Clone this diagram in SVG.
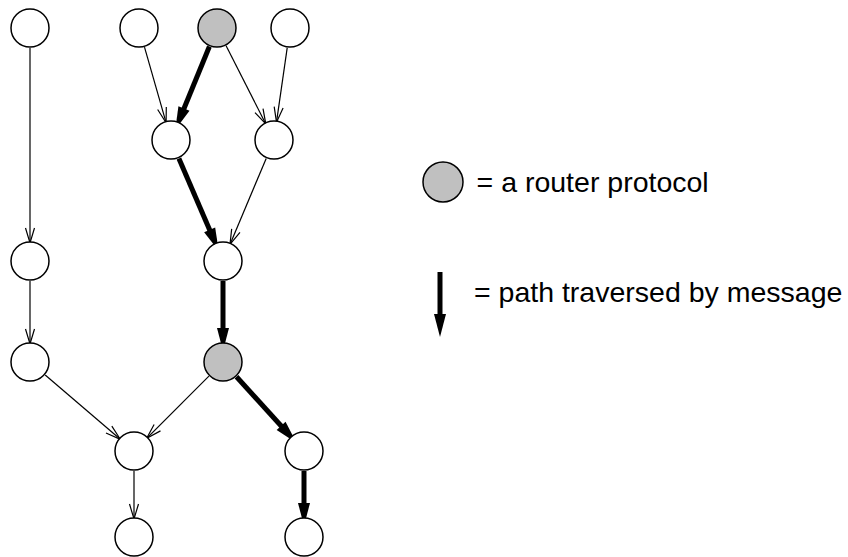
<svg xmlns="http://www.w3.org/2000/svg" width="848" height="557" viewBox="0 0 848 557">
<style>
.node{fill:#ffffff;stroke:#000;stroke-width:1.5}
.router{fill:#c0c0c0;stroke:#000;stroke-width:1.5}
.thin{stroke:#000;stroke-width:1.2;fill:none}
.thick{stroke:#000;stroke-width:5;fill:none}
.lbl{font-family:"Liberation Sans",Arial,Helvetica,sans-serif;font-size:28.5px;fill:#000}
</style>
<defs>
<marker id="open" markerUnits="userSpaceOnUse" markerWidth="40" markerHeight="40" refX="0" refY="0" orient="auto" overflow="visible" viewBox="-20 -20 40 40">
<path d="M-15,-4.5 L0,0 L-15,4.5" fill="none" stroke="#000" stroke-width="1.2"/>
</marker>
<marker id="solid" markerUnits="userSpaceOnUse" markerWidth="60" markerHeight="60" refX="0" refY="0" orient="auto" overflow="visible" viewBox="-30 -30 60 60">
<path d="M-11,-6 L12,0 L-11,6 Z" fill="#000" stroke="none"/>
</marker>
</defs>
<g id="connectors">
<line class="thin" x1="30" y1="48" x2="30" y2="243" marker-end="url(#open)"/>
<line class="thin" x1="144.5" y1="47.2" x2="166.1" y2="122.7" marker-end="url(#open)"/>
<line class="thin" x1="226.1" y1="45.8" x2="265.8" y2="124" marker-end="url(#open)"/>
<line class="thin" x1="287.2" y1="47.8" x2="276.5" y2="122.2" marker-end="url(#open)"/>
<line class="thin" x1="266.2" y1="158.4" x2="230" y2="244.4" marker-end="url(#open)"/>
<line class="thin" x1="30" y1="281" x2="30" y2="344" marker-end="url(#open)"/>
<line class="thin" x1="45.2" y1="375" x2="120.3" y2="439.3" marker-end="url(#open)"/>
<line class="thin" x1="208.9" y1="376.1" x2="146.7" y2="438.3" marker-end="url(#open)"/>
<line class="thin" x1="134" y1="471" x2="134" y2="519" marker-end="url(#open)"/>
<line class="thick" x1="209.4" y1="46.5" x2="179.8" y2="118.7" marker-end="url(#solid)"/>
<line class="thick" x1="178.9" y1="158.4" x2="214" y2="239.9" marker-end="url(#solid)"/>
<line class="thick" x1="223" y1="281" x2="223" y2="339" marker-end="url(#solid)"/>
<line class="thick" x1="236.5" y1="376.8" x2="288.5" y2="434" marker-end="url(#solid)"/>
<line class="thick" x1="304" y1="471" x2="304" y2="514" marker-end="url(#solid)"/>
</g>
<g id="n1"><circle class="node" cx="30" cy="28" r="19"/></g>
<g id="n2"><circle class="node" cx="139" cy="28" r="19"/></g>
<g id="n3"><circle class="router" cx="217" cy="28" r="19"/></g>
<g id="n4"><circle class="node" cx="290" cy="28" r="19"/></g>
<g id="n5"><circle class="node" cx="171" cy="140" r="19"/></g>
<g id="n6"><circle class="node" cx="274" cy="140" r="19"/></g>
<g id="n7"><circle class="node" cx="30" cy="261" r="19"/></g>
<g id="n8"><circle class="node" cx="223" cy="261" r="19"/></g>
<g id="n9"><circle class="node" cx="30" cy="362" r="19"/></g>
<g id="n10"><circle class="router" cx="223" cy="362" r="19"/></g>
<g id="n11"><circle class="node" cx="134" cy="451" r="19"/></g>
<g id="n12"><circle class="node" cx="304" cy="451" r="19"/></g>
<g id="n13"><circle class="node" cx="134" cy="537" r="19"/></g>
<g id="n14"><circle class="node" cx="304" cy="537" r="19"/></g>
<g id="legend">
<circle class="router" cx="443" cy="182" r="20"/>
<text class="lbl" x="476.6" y="192">= a router protocol</text>
<line class="thick" x1="440" y1="272" x2="440" y2="325" marker-end="url(#solid)"/>
<text class="lbl" x="474" y="302">= path traversed by message</text>
</g>
</svg>
